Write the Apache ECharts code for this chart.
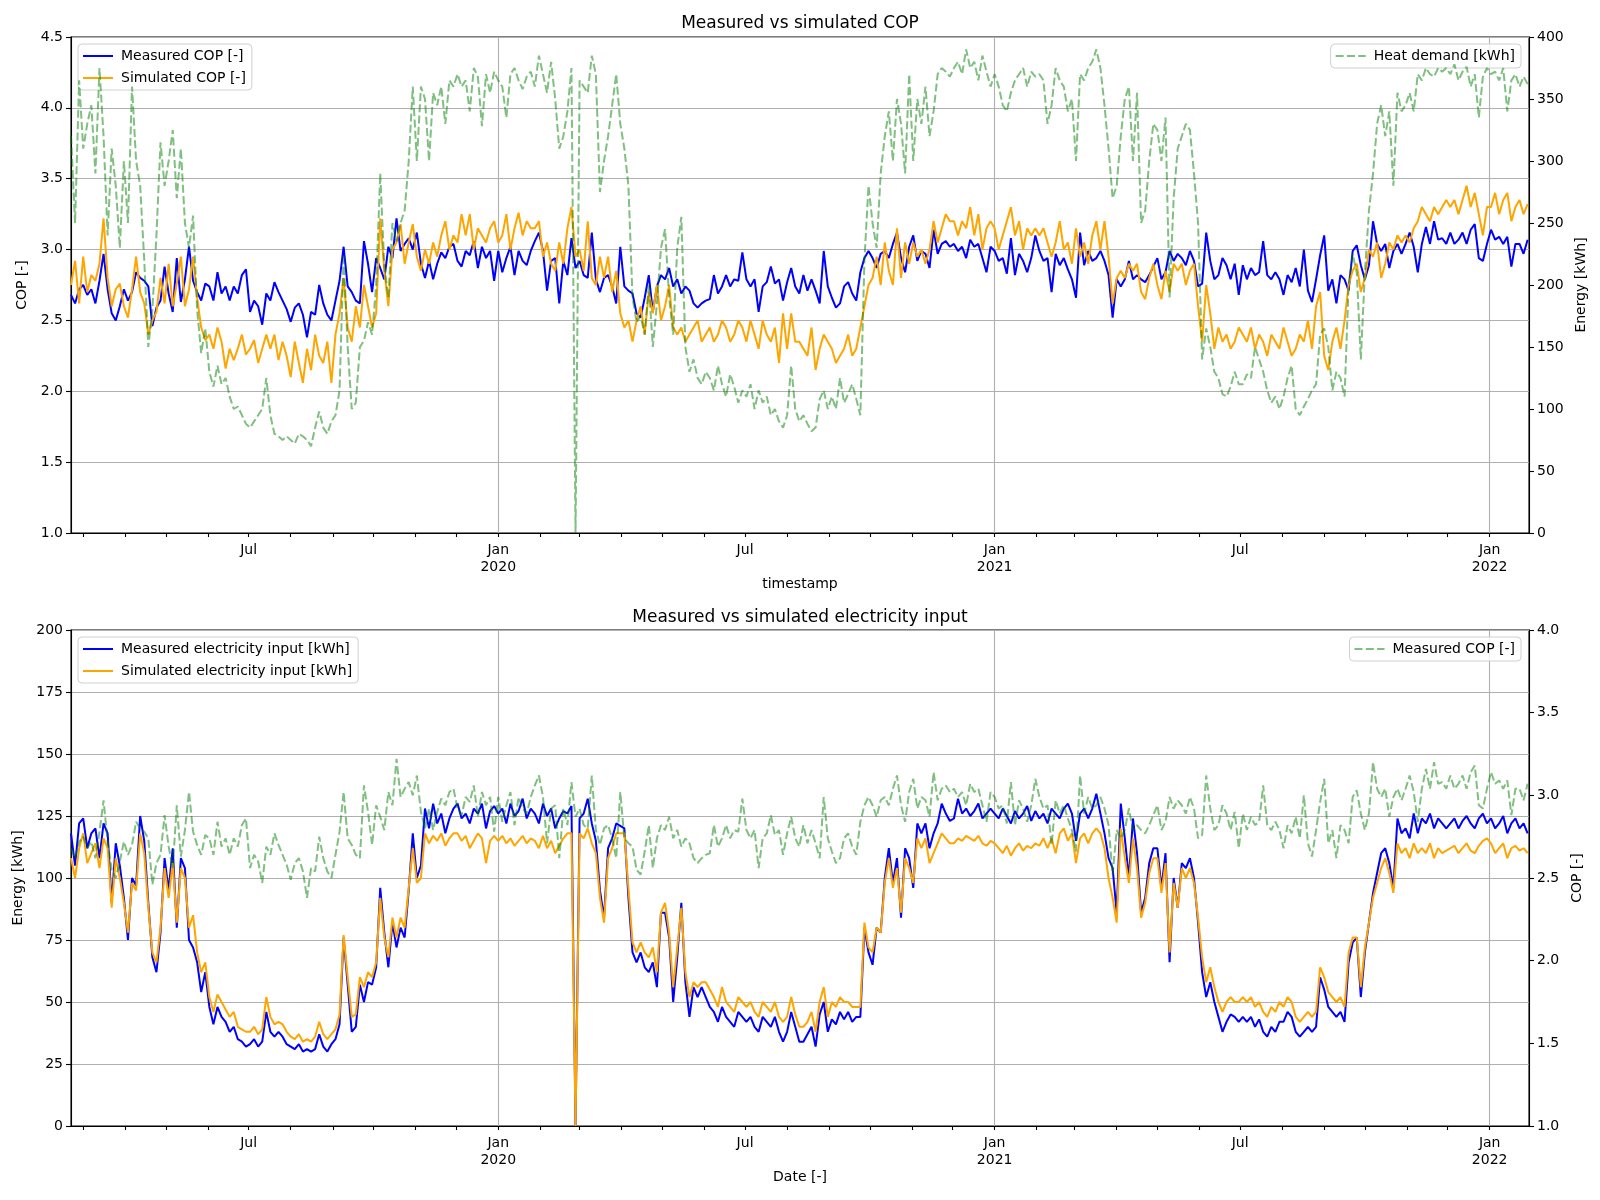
<!DOCTYPE html>
<html><head><meta charset="utf-8">
<script src="https://cdn.jsdelivr.net/npm/echarts@6/dist/echarts.min.js"></script>
<style>html,body{margin:0;padding:0;background:#fff}#chart{width:1600px;height:1200px}</style>
</head><body><div id="chart"></div>
<script>
// ---- data (one sample every STEP_DAYS days from START_DATE) ----
const START_DATE = '2019-02-20';
const STEP_DAYS = 3;
const X_MIN_DATE = '2019-02-20';
const X_MAX_DATE = '2022-01-30';

const measuredCOP = [
2.68,2.62,2.72,
2.75,2.68,2.72,2.62,2.78,2.97,2.72,2.55,2.50,2.60,2.72,
2.64,2.70,2.84,2.80,2.78,2.74,2.46,2.59,2.64,2.88,
2.69,2.56,2.94,2.63,2.79,3.02,2.78,2.70,2.64,2.76,
2.74,2.64,2.84,2.69,2.74,2.64,2.74,2.69,2.82,2.86,
2.56,2.64,2.60,2.47,2.69,2.64,2.77,2.70,2.64,2.58,
2.49,2.59,2.62,2.54,2.38,2.56,2.54,2.75,2.62,2.54,2.50,
2.64,2.78,3.02,2.74,2.70,2.64,2.62,3.06,2.90,2.70,
2.94,2.87,2.79,3.02,2.94,3.22,2.99,3.04,3.08,3.00,
3.12,2.90,2.80,2.92,2.79,2.90,2.98,2.94,3.02,3.04,
2.92,2.88,2.99,2.96,3.06,2.87,3.02,2.94,2.99,2.78,
2.99,2.84,2.94,3.02,2.82,2.99,2.92,2.89,2.99,3.06,3.12,
2.99,2.71,2.92,2.94,2.62,2.92,2.82,3.08,2.87,
2.92,2.82,2.80,3.12,2.79,2.70,2.80,2.82,2.74,2.62,3.02,
2.74,2.71,2.69,2.55,2.52,2.66,2.82,2.56,2.74,2.82,
2.79,2.87,2.74,2.79,2.69,2.74,2.71,2.62,2.59,2.62,
2.64,2.65,2.82,2.69,2.74,2.82,2.74,2.79,2.78,2.98,
2.79,2.74,2.79,2.56,2.74,2.77,2.88,2.76,2.79,2.64,
2.77,2.87,2.74,2.69,2.82,2.71,2.79,2.71,2.62,2.99,2.74,
2.66,2.59,2.62,2.74,2.77,2.69,2.64,2.84,2.94,2.99,
2.94,2.87,2.97,2.99,2.94,3.04,3.12,2.94,2.84,3.02,
3.10,2.92,2.99,2.97,2.87,3.14,2.97,3.04,3.06,3.02,
3.04,2.99,3.02,2.94,3.07,3.02,3.04,2.94,2.84,3.02,
2.99,2.92,2.94,2.83,3.08,2.82,2.97,2.92,2.84,2.94,3.10,
2.99,2.92,2.94,2.70,2.97,2.89,2.94,2.86,2.79,
2.66,3.12,2.89,2.99,2.92,2.94,2.99,2.92,2.82,2.52,
2.79,2.74,2.79,2.92,2.79,2.82,2.79,2.77,2.82,2.88,
2.94,2.79,2.84,2.99,2.92,2.97,2.94,2.89,2.99,2.92,2.74,
2.76,3.12,2.92,2.79,2.82,2.94,2.89,2.79,2.90,2.68,
2.89,2.79,2.87,2.82,2.84,3.06,2.82,2.79,2.84,2.79,
2.68,2.82,2.77,2.87,2.74,3.00,2.71,2.63,2.79,2.96,
3.10,2.71,2.79,2.62,2.82,2.79,2.71,2.99,3.03,2.89,
2.79,2.89,3.20,3.04,2.99,3.04,2.87,2.99,3.04,2.97,3.04,
3.12,3.02,2.84,3.04,3.16,3.04,3.20,3.07,3.08,3.04,
3.12,3.04,3.07,3.12,3.04,3.14,3.18,2.94,2.92,3.04,
3.14,3.07,3.09,3.04,3.09,2.88,3.04,3.04,2.97,3.07
];

const simulatedCOP = [
2.75,2.92,2.62,
2.95,2.70,2.82,2.78,2.90,3.22,2.80,2.60,2.72,2.76,2.60,
2.52,2.72,2.95,2.70,2.62,2.40,2.50,2.56,2.80,2.62,
2.90,2.60,2.76,2.95,2.60,2.72,2.95,2.66,2.45,2.36,
2.40,2.30,2.45,2.35,2.16,2.30,2.22,2.30,2.40,2.26,
2.30,2.36,2.20,2.30,2.40,2.30,2.40,2.22,2.35,2.25,
2.10,2.35,2.20,2.06,2.30,2.15,2.40,2.25,2.20,2.35,2.06,
2.40,2.55,2.80,2.45,2.35,2.60,2.45,2.75,2.60,2.45,
2.55,3.22,2.85,2.60,3.00,3.05,3.18,2.90,3.05,3.18,
2.95,2.85,3.00,2.90,3.05,2.95,3.10,3.20,3.00,3.10,
3.05,3.25,3.10,3.25,3.00,3.15,3.10,3.05,3.15,3.20,
3.05,3.10,3.25,3.00,3.15,3.26,3.10,3.20,3.15,3.15,3.20,
2.95,3.05,2.90,2.85,3.05,2.90,3.15,3.30,2.95,
3.00,2.85,3.20,2.80,2.75,2.95,2.80,2.95,2.70,2.85,2.55,
2.45,2.50,2.35,2.50,2.60,2.40,2.70,2.55,2.75,2.50,
2.60,2.75,2.45,2.40,2.45,2.35,2.40,2.45,2.50,2.35,
2.40,2.45,2.35,2.40,2.50,2.45,2.35,2.40,2.50,2.45,
2.35,2.50,2.40,2.30,2.50,2.40,2.35,2.45,2.20,2.55,
2.30,2.55,2.35,2.35,2.30,2.25,2.45,2.15,2.30,2.40,2.35,
2.30,2.20,2.25,2.30,2.40,2.25,2.30,2.45,2.60,2.75,
2.80,2.95,2.75,3.05,2.85,2.75,3.15,2.80,3.05,2.90,
3.05,2.95,3.00,2.90,3.00,3.20,3.05,3.15,3.25,3.20,
3.20,3.10,3.20,3.15,3.30,3.10,3.25,3.00,3.15,3.20,
3.15,3.00,3.10,3.20,3.30,3.10,3.20,3.00,3.15,3.10,3.15,
3.10,3.15,3.05,2.95,3.05,3.20,3.00,3.05,2.90,
3.15,2.95,3.05,2.90,3.10,3.20,3.00,3.20,2.95,2.62,
2.80,2.85,2.80,2.90,2.85,2.90,2.70,2.65,2.80,2.90,
2.75,2.65,2.85,2.70,2.90,2.85,2.90,2.75,2.85,2.90,2.60,
2.35,2.75,2.55,2.30,2.45,2.35,2.40,2.30,2.35,2.45,
2.40,2.35,2.45,2.30,2.40,2.35,2.25,2.40,2.35,2.30,
2.45,2.35,2.25,2.30,2.40,2.35,2.50,2.30,2.60,2.70,
2.25,2.15,2.35,2.45,2.30,2.50,2.75,2.85,2.90,2.70,
2.80,3.00,2.95,3.05,2.80,2.90,3.05,3.00,3.10,3.05,3.10,
3.05,3.15,3.20,3.30,3.25,3.20,3.30,3.25,3.30,3.35,
3.30,3.35,3.25,3.35,3.45,3.30,3.40,3.25,3.10,3.30,
3.30,3.40,3.25,3.35,3.40,3.20,3.30,3.35,3.25,3.32
];

const heatDemand = [
320,250,365,
310,330,345,290,375,320,240,310,280,230,300,
250,360,300,280,220,150,180,240,315,280,
300,325,270,310,250,230,256,180,145,165,
130,118,135,120,125,110,100,102,95,88,
85,90,95,100,125,95,80,78,75,78,
75,72,80,78,75,70,85,98,85,80,90,
95,115,225,150,100,105,150,155,170,160,
200,290,215,190,250,235,250,260,300,360,
300,360,350,300,355,345,360,330,365,360,
370,360,365,340,375,368,328,370,355,372,
365,360,335,370,375,365,358,368,372,360,385,
370,355,380,350,310,320,340,375,0,
365,360,355,385,370,275,300,320,345,370,330,
310,280,190,170,175,160,200,150,185,230,
245,190,160,230,255,150,130,140,125,120,
130,125,115,135,120,110,128,118,105,115,
110,120,100,115,105,110,95,100,90,85,
95,135,100,90,95,88,82,85,108,115,100,
110,100,125,105,112,120,108,95,220,280,
250,230,290,320,340,300,350,330,290,370,
300,350,330,360,320,340,370,375,372,368,
375,380,370,390,375,380,365,385,372,360,
370,360,345,340,355,365,370,375,360,372,368,
370,365,330,345,375,365,360,340,350,
300,370,365,375,380,390,375,345,310,270,
280,320,350,360,300,355,250,260,300,330,
325,300,335,190,270,310,320,330,325,290,250,
140,165,150,130,125,112,110,118,130,120,
120,128,125,150,140,130,115,105,110,100,
110,125,135,100,95,102,108,115,120,160,
165,150,115,130,125,110,200,225,210,140,
210,260,290,330,345,320,340,280,355,340,345,
355,340,370,365,375,370,368,375,372,375,
370,378,365,372,376,360,370,335,368,375,
370,372,365,375,340,365,370,360,368,362
];

const measuredElec = [
118,105,122,
124,112,118,120,108,122,118,90,114,105,92,
75,100,97,125,115,90,68,62,78,108,
95,112,80,108,104,75,72,66,54,62,
48,41,48,44,42,38,40,35,34,32,
33,35,32,34,46,38,36,38,36,33,
32,31,33,30,31,30,31,37,32,30,33,
35,41,76,57,38,40,57,50,58,57,
64,96,78,64,82,72,80,76,95,118,
100,105,128,120,130,122,126,118,124,128,
130,124,126,122,128,126,130,120,127,129,
126,128,122,130,125,127,132,124,128,126,122,
130,125,128,120,124,127,126,129,0,
124,126,132,122,115,95,84,112,116,122,121,
120,92,70,66,70,64,62,66,56,86,
86,76,50,68,90,58,44,56,52,56,
52,48,46,42,48,44,42,40,46,44,
42,44,40,38,44,42,40,44,38,34,
38,46,40,34,34,37,40,32,45,50,38,
43,41,46,43,46,42,44,44,80,70,
65,80,78,100,112,98,108,84,112,108,
96,122,118,122,112,118,122,130,126,123,
124,132,126,128,125,127,130,124,126,128,
126,124,128,125,122,127,124,126,129,123,127,
124,126,122,128,126,124,128,130,126,
115,126,128,124,128,134,126,118,108,104,
86,130,116,100,124,110,86,92,106,112,
112,96,110,66,100,88,106,104,108,100,82,
62,52,58,50,44,38,42,45,44,42,
44,42,44,40,43,38,36,40,38,42,
42,46,44,38,36,38,40,38,40,60,
55,48,46,44,46,42,66,74,76,52,
70,82,94,102,110,112,106,96,124,118,120,
116,126,118,124,122,126,120,124,122,120,
122,124,120,123,125,122,120,124,126,122,
124,120,122,125,118,122,124,120,122,118
];

const simulatedElec = [
108,100,112,
118,106,110,114,104,116,112,88,108,100,90,
78,98,95,118,110,88,70,66,80,104,
92,106,82,104,100,80,85,70,62,66,
52,46,53,50,47,44,46,40,39,38,
38,40,37,39,52,44,41,42,41,38,
36,35,37,34,35,34,36,42,37,35,37,
39,45,77,60,44,45,60,56,62,60,
66,92,76,68,84,76,84,80,96,112,
98,100,118,114,117,115,118,113,116,118,
118,115,117,112,115,118,116,106,115,117,
115,117,114,116,113,115,117,114,116,115,112,
117,112,115,110,113,116,118,118,0,
118,116,120,114,110,92,82,108,112,118,118,
118,96,74,70,74,70,68,72,62,86,
90,78,56,72,88,62,52,58,56,58,
58,55,52,48,56,50,48,46,52,50,
48,50,46,44,50,48,46,50,44,42,
44,52,45,40,40,42,46,38,50,56,44,
50,48,52,50,50,48,48,48,82,72,
70,80,78,98,108,96,104,86,108,104,
98,116,112,116,106,110,114,118,116,114,
114,116,115,117,116,115,117,114,113,115,
114,112,110,113,109,112,114,111,113,112,114,
113,116,112,116,110,118,120,115,118,
106,116,118,114,118,120,118,112,100,92,
82,120,108,98,116,104,84,90,102,108,
108,94,106,70,98,88,104,100,104,98,84,
68,58,64,56,50,46,50,52,50,50,
52,50,52,48,50,46,44,48,46,50,
48,52,50,44,42,44,46,44,46,64,
60,54,52,50,52,48,70,76,76,56,
72,82,92,98,104,108,102,94,114,110,112,
108,114,110,112,110,114,108,112,110,111,
112,113,110,112,114,111,110,113,115,116,
114,110,112,114,108,112,113,111,112,110
];

// ---- build chart ----
const DAY = 86400000;
const t0 = Date.parse(START_DATE + 'T00:00:00Z');
const xMin = Date.parse(X_MIN_DATE + 'T00:00:00Z');
const xMax = Date.parse(X_MAX_DATE + 'T00:00:00Z');
const toPairs = arr => arr.map((v, i) => [t0 + i * STEP_DAYS * DAY, v]);

const monthTicks = [];
for (let y = 2019; y <= 2022; y++) for (let m = 0; m < 12; m++) {
  const t = Date.UTC(y, m, 1);
  if (t > xMin && t < xMax) monthTicks.push(t);
}
const labelTicks = monthTicks.filter(t => [0, 6].includes(new Date(t).getUTCMonth()));
const janTicks = monthTicks.filter(t => new Date(t).getUTCMonth() === 0);

const FONT = 'DejaVu Sans';
const BLACK = '#000';
const GRID_C = '#b0b0b0';
const fmtX = v => { const d = new Date(v); return d.getUTCMonth() === 0 ? 'Jan\n' + d.getUTCFullYear() : 'Jul'; };

function xAxisFor(gi, name) {
  return {
    type: 'value', gridIndex: gi, min: xMin, max: xMax, scale: true,
    axisLine: { show: true, onZero: false, lineStyle: { color: BLACK, width: 1.1 } },
    axisTick: { show: true, customValues: monthTicks, length: 4, lineStyle: { color: BLACK, width: 1.1 } },
    axisLabel: { customValues: labelTicks, formatter: fmtX, color: BLACK, fontSize: 14, fontFamily: FONT, margin: 9, lineHeight: 17, hideOverlap: false },
    splitLine: { show: false },
    name: name, nameLocation: 'middle', nameGap: 44,
    nameTextStyle: { color: BLACK, fontSize: 14, fontFamily: FONT }
  };
}
function yAxisFor(gi, opt) {
  return Object.assign({
    type: 'value', gridIndex: gi,
    axisLine: { show: true, onZero: false, lineStyle: { color: BLACK, width: 1.1 } },
    axisTick: { show: true, length: 5, lineStyle: { color: BLACK, width: 1.1 } },
    axisLabel: { color: BLACK, fontSize: 14, fontFamily: FONT, margin: 8 },
    nameLocation: 'middle', nameRotate: 90,
    nameTextStyle: { color: BLACK, fontSize: 14, fontFamily: FONT }
  }, opt);
}
const split = { show: true, lineStyle: { color: GRID_C, width: 1.1 } };

const legendCommon = {
  orient: 'vertical', itemWidth: 30, itemHeight: 14, itemGap: 8,
  padding: [5, 6, 5, 4], borderColor: '#d0d0d0', borderWidth: 1, borderRadius: 4,
  backgroundColor: 'rgba(255,255,255,0.8)', selectedMode: false,
  itemStyle: { opacity: 0 },
  textStyle: { color: BLACK, fontSize: 14, fontFamily: FONT, padding: [0, 0, 0, 3] }
};

const solid = (name, color, xi, yi, data, z) => ({
  name, type: 'line', xAxisIndex: xi, yAxisIndex: yi, data, z,
  showSymbol: false, symbol: 'none', color, animation: false,
  lineStyle: { width: 2, color }, emphasis: { disabled: true }
});
const dashed = (name, xi, yi, data, z) => ({
  name, type: 'line', xAxisIndex: xi, yAxisIndex: yi, data, z,
  showSymbol: false, symbol: 'none', color: 'rgba(0,128,0,0.5)', animation: false,
  lineStyle: { width: 2, color: 'rgba(0,128,0,0.5)', type: [8, 3.3] }, emphasis: { disabled: true }
});
const gridlineSeries = (xi, yi) => ({
  name: 'vgrid' + xi, type: 'line', xAxisIndex: xi, yAxisIndex: yi, data: [], z: 1, silent: true,
  markLine: { silent: true, symbol: 'none', z: 1, animation: false, label: { show: false },
    lineStyle: { color: GRID_C, width: 1.1, type: 'solid' }, emphasis: { disabled: true },
    data: janTicks.map(t => ({ xAxis: t })) }
});

const BOTTOM_COP = 'Measured COP (bottom)';

const option = {
  animation: false,
  backgroundColor: '#fff',
  textStyle: { fontFamily: FONT },
  title: [
    { text: 'Measured vs simulated COP', left: 'center', top: 15, padding: 0,
      textStyle: { fontSize: 17, fontWeight: 'normal', color: BLACK, fontFamily: FONT } },
    { text: 'Measured vs simulated electricity input', left: 'center', top: 609, padding: 0,
      textStyle: { fontSize: 17, fontWeight: 'normal', color: BLACK, fontFamily: FONT } }
  ],
  grid: [
    { left: 71, top: 37, width: 1458, height: 496, show: true, borderColor: BLACK, borderWidth: 1.1, backgroundColor: 'transparent' },
    { left: 71, top: 630, width: 1458, height: 496, show: true, borderColor: BLACK, borderWidth: 1.1, backgroundColor: 'transparent' }
  ],
  xAxis: [ xAxisFor(0, 'timestamp'), xAxisFor(1, 'Date [-]') ],
  yAxis: [
    yAxisFor(0, { min: 1, max: 4.5, interval: 0.5, position: 'left', name: 'COP [-]', nameGap: 36,
      axisLabel: { color: BLACK, fontSize: 14, fontFamily: FONT, margin: 8, formatter: v => v.toFixed(1) }, splitLine: split }),
    yAxisFor(0, { min: 0, max: 400, interval: 50, position: 'right', name: 'Energy [kWh]', nameGap: 38, splitLine: { show: false } }),
    yAxisFor(1, { min: 0, max: 200, interval: 25, position: 'left', name: 'Energy [kWh]', nameGap: 41, splitLine: split }),
    yAxisFor(1, { min: 1, max: 4, interval: 0.5, position: 'right', name: 'COP [-]', nameGap: 32,
      axisLabel: { color: BLACK, fontSize: 14, fontFamily: FONT, margin: 8, formatter: v => v.toFixed(1) }, splitLine: { show: false } })
  ],
  legend: [
    Object.assign({}, legendCommon, { data: ['Measured COP [-]', 'Simulated COP [-]'], left: 78, top: 44 }),
    Object.assign({}, legendCommon, { data: ['Heat demand [kWh]'], right: 79, top: 44 }),
    Object.assign({}, legendCommon, { data: ['Measured electricity input [kWh]', 'Simulated electricity input [kWh]'], left: 78, top: 637 }),
    Object.assign({}, legendCommon, { data: [BOTTOM_COP], right: 79, top: 637,
      formatter: n => n === BOTTOM_COP ? 'Measured COP [-]' : n })
  ],
  series: [
    gridlineSeries(0, 0),
    solid('Measured COP [-]', '#0000ff', 0, 0, toPairs(measuredCOP), 3),
    solid('Simulated COP [-]', '#ffa500', 0, 0, toPairs(simulatedCOP), 4),
    dashed('Heat demand [kWh]', 0, 1, toPairs(heatDemand), 5),
    gridlineSeries(1, 2),
    solid('Measured electricity input [kWh]', '#0000ff', 1, 2, toPairs(measuredElec), 3),
    solid('Simulated electricity input [kWh]', '#ffa500', 1, 2, toPairs(simulatedElec), 4),
    dashed(BOTTOM_COP, 1, 3, toPairs(measuredCOP), 5)
  ]
};

const chart = echarts.init(document.getElementById('chart'), null, { renderer: 'canvas', width: 1600, height: 1200 });
chart.setOption(option);
</script>
</body></html>
